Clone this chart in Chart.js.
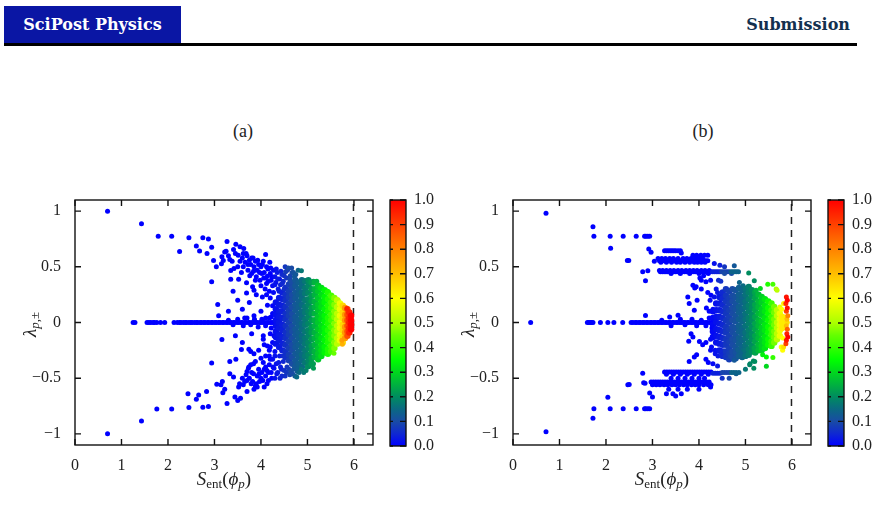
<!DOCTYPE html>
<html>
<head>
<meta charset="utf-8">
<script src="https://cdn.jsdelivr.net/npm/chart.js@4.4.0/dist/chart.umd.min.js"></script>
<style>
  body { margin:0; width:880px; height:506px; background:#fff; position:relative; overflow:hidden; font-family:"Liberation Serif", serif; }
  canvas { position:absolute; }
  #brand { position:absolute; left:4px; top:6px; width:177px; height:38px; background:#0a16a4; color:#fff;
           font-family:"DejaVu Serif", serif; font-weight:bold; font-size:16px; line-height:37px; text-align:center; }
  #sub { position:absolute; right:30px; top:6px; height:38px; line-height:37px; color:#13304e;
         font-family:"DejaVu Serif", serif; font-weight:bold; font-size:16px; }
  #rule { position:absolute; left:4px; top:43px; width:853px; height:2.5px; background:#000; }
  .ptitle { position:absolute; top:121px; width:60px; text-align:center; font-size:18px; color:#222; }
</style>
</head>
<body>
<div id="brand">SciPost Physics</div>
<div id="sub">Submission</div>
<div id="rule"></div>
<div class="ptitle" style="left:213px">(a)</div>
<div class="ptitle" style="left:673px">(b)</div>
<canvas id="scA" width="386" height="316" style="left:0px;top:190px"></canvas>
<canvas id="cbA" width="60" height="316" style="left:380px;top:190px"></canvas>
<canvas id="scB" width="386" height="316" style="left:438px;top:190px"></canvas>
<canvas id="cbB" width="60" height="316" style="left:818px;top:190px"></canvas>
<script>
// axis ticks
const ticksS = [0, 1, 2, 3, 4, 5, 6];
const ticksLambda = [-1, -0.5, 0, 0.5, 1];
const ticksColor = [0, 0.1, 0.2, 0.3, 0.4, 0.5, 0.6, 0.7, 0.8, 0.9, 1.0];
const sMaxLine = 5.99;   // dashed line, maximal entropy

// ---- panel (a) ----
// points lying on lambda = 0 (all blue)
const axisPtsA = [1.25,1.29,1.55,1.59,1.63,1.68,1.71,1.76,1.84,1.93,2.13,2.2,2.25,2.28,2.33,2.37,2.4,2.45,2.49,2.52,2.57,2.61,2.64,2.69,2.72,2.77,2.8,2.85,2.88,2.93,2.96,3.01,3.04,3.09,3.12,3.17,3.2,3.25,3.28,3.33,3.36,3.41,3.44,3.49,3.52,3.57,3.6,3.65,3.68,3.73,3.76,3.81,3.84,3.89,3.92,3.97,4.0,4.05,4.08,4.13,4.16,4.21,4.24,4.28];
// scattered points [S, lambda, colour value]
const scatterA = [
  [0.70,1.00,0],[1.43,0.886,0],[1.79,0.775,0],[2.08,0.775,0],[2.25,0.638,0],[2.45,0.76,0],[2.61,0.688,0],[2.68,0.643,0],
  [2.75,0.76,0],[2.84,0.62,0],[2.87,0.75,0],[2.94,0.676,0],[2.98,0.557,0],[3.04,0.50,0],[2.94,0.365,0],[3.07,0.162,0],[3.09,0.06,0],
  [3.27,0.728,0],[3.22,0.634,0],[3.25,0.64,0],[3.46,0.703,0],[3.41,0.656,0],[3.16,0.59,0],[3.19,0.557,0],[3.15,0.527,0],
  [3.33,0.566,0],[3.51,0.605,0],[3.63,0.665,0],[3.68,0.62,0],[3.35,0.467,0],[3.42,0.485,0],[3.35,0.389,0],[3.52,0.389,0],
  [3.69,0.356,0],[3.69,0.266,0],[3.82,0.32,0],[3.85,0.29,0],[3.3,0.6,0],[3.38,0.55,0],[3.45,0.62,0],[3.55,0.68,0],[3.58,0.45,0],[3.5,0.5,0],
  [3.55,0.55,0],[3.6,0.58,0],[3.62,0.5,0],[3.66,0.54,0],[3.7,0.6,0],[3.72,0.47,0],[3.75,0.56,0],[3.78,0.52,0],[3.8,0.44,0],
  [3.83,0.58,0],[3.85,0.5,0],[3.88,0.55,0],[3.9,0.41,0],[3.92,0.47,0],[3.95,0.52,0],[3.98,0.38,0],[4.0,0.5,0],[4.02,0.44,0],
  [4.05,0.55,0],[4.07,0.45,0],[4.1,0.61,0],[4.1,0.4,0],[4.12,0.35,0],[4.14,0.415,0],[4.15,0.48,0],[4.19,0.54,0],[4.2,0.44,0],
  [4.22,0.38,0],[4.25,0.33,0.01],[4.27,0.47,0.01],[4.3,0.41,0.02],[4.32,0.36,0.02],[4.35,0.45,0.03],[4.37,0.3,0.03],[4.4,0.39,0.03],
  [4.42,0.34,0.04],[4.45,0.43,0.05],[4.48,0.37,0.05],[4.5,0.3,0.06],[4.53,0.455,0.08],[4.55,0.4,0.07],[4.59,0.49,0.1],[4.6,0.35,0.08],
  [4.63,0.42,0.09],[4.67,0.45,0.1],[4.72,0.41,0.12],[4.87,0.464,0.17],[5.02,0.37,0.2],[5.13,0.371,0.22],[5.2,0.371,0.25],
  [5.27,0.314,0.3],[5.43,0.28,0.35],[5.55,0.225,0.42],[5.66,0.2,0.5],[5.85,0.126,0.95],
  [3.62,0.62,0],[3.72,0.52,0],[3.76,0.42,0],[3.8,0.58,0],[3.84,0.46,0],[3.88,0.38,0],[3.93,0.56,0],[3.97,0.45,0],[4.0,0.33,0],
  [4.03,0.52,0],[4.06,0.4,0],[4.09,0.3,0],[4.12,0.5,0],[4.16,0.37,0],[4.18,0.28,0],[4.21,0.49,0],[4.24,0.41,0],[4.27,0.27,0.01],
  [4.3,0.34,0.02],[4.33,0.48,0.02],[4.36,0.39,0.03],[4.39,0.28,0.03],[4.43,0.46,0.04],[4.46,0.35,0.05],[4.5,0.42,0.06],
  [4.52,0.5,0.07],[4.57,0.47,0.08],[4.62,0.39,0.09],[4.66,0.49,0.1],[4.7,0.45,0.11],[4.75,0.43,0.12],[4.8,0.47,0.14],
  [3.4,0.28,0],[3.5,0.2,0],[3.6,0.12,0],[3.75,0.18,0],[3.9,0.25,0],[4.03,0.23,0],[4.14,0.155,0],[4.0,0.1,0],[4.2,0.22,0],
  [4.25,0.08,0],[3.3,0.1,0],[3.85,0.06,0],[4.1,0.04,0],[3.65,0.04,0],[4.12,0.25,0],[4.25,0.15,0],[4.22,0.05,0],
  [3.5,0.03,0],[3.62,-0.03,0],[3.7,0.04,0],[3.78,-0.02,0],[3.86,0.03,0],[3.94,-0.04,0],[4.02,0.03,0],[4.1,-0.03,0],[4.18,0.04,0],
  [4.22,-0.05,0],[3.3,0.02,0],[3.4,-0.02,0],
  [0.70,-1.00,0],[1.43,-0.884,0],[1.76,-0.776,0],[2.08,-0.776,0],[2.45,-0.764,0],[2.75,-0.76,0],[2.87,-0.755,0],[2.43,-0.64,0],
  [2.66,-0.65,0],[2.61,-0.69,0],[2.83,-0.62,0],[2.94,-0.363,0],[3.05,-0.554,0],[3.16,-0.153,0],[3.27,-0.728,0],[3.18,-0.63,0],
  [3.22,-0.6,0],[3.17,-0.53,0],[3.14,-0.56,0],[3.33,-0.35,0],[3.46,-0.33,0],[3.33,-0.46,0],[3.41,-0.49,0],[3.44,-0.67,0],
  [3.5,-0.7,0],[3.56,-0.68,0],[3.52,-0.58,0],[3.54,-0.55,0],[3.7,-0.62,0],[3.58,-0.243,0],[3.74,-0.24,0],[3.78,-0.26,0],
  [3.85,-0.28,0],[3.7,-0.44,0],[3.73,-0.41,0],[3.78,-0.38,0],[3.84,-0.37,0],[3.85,-0.6,0],[3.88,-0.57,0],[3.9,-0.55,0],
  [4.0,-0.5,0],[4.07,-0.58,0],[4.13,-0.43,0],[4.1,-0.4,0],[4.07,-0.2,0],[4.14,-0.21,0],[4.2,-0.22,0],
  [3.6,-0.5,0],[3.65,-0.53,0],[3.68,-0.47,0],[3.75,-0.5,0],[3.8,-0.45,0],[3.82,-0.53,0],[3.92,-0.48,0],[3.95,-0.42,0],
  [3.97,-0.53,0],[4.02,-0.45,0],[4.05,-0.36,0],[4.1,-0.48,0],[4.16,-0.52,0],[4.18,-0.38,0],[4.22,-0.45,0],[4.25,-0.33,0.01],
  [4.28,-0.41,0.01],[4.3,-0.5,0.02],[4.33,-0.37,0.02],[4.36,-0.45,0.03],[4.4,-0.3,0.03],[4.42,-0.4,0.04],[4.45,-0.48,0.05],
  [4.48,-0.35,0.05],[4.5,-0.43,0.06],[4.55,-0.45,0.07],[4.6,-0.42,0.08],[4.65,-0.44,0.1],[4.7,-0.42,0.11],[4.77,-0.489,0.15],
  [4.87,-0.42,0.17],[4.82,-0.45,0.15],[5.13,-0.41,0.22],[5.13,-0.37,0.22],[5.0,-0.4,0.2],[5.57,-0.276,0.45],[5.75,-0.195,0.72],
  [5.74,-0.16,0.75],[3.45,-0.12,0],[3.6,-0.18,0],[3.8,-0.1,0],[3.95,-0.25,0],[4.05,-0.12,0],[4.18,-0.3,0],[4.25,-0.18,0],
  [4.3,-0.26,0.01],[4.05,-0.15,0],[4.2,-0.1,0],[4.18,-0.25,0],[4.28,-0.12,0],
  [3.62,-0.56,0],[3.7,-0.52,0],[3.74,-0.4,0],[3.79,-0.55,0],[3.84,-0.46,0],[3.88,-0.35,0],[3.92,-0.58,0],[3.96,-0.46,0],
  [4.0,-0.32,0],[4.04,-0.52,0],[4.07,-0.42,0],[4.1,-0.3,0],[4.13,-0.55,0],[4.16,-0.45,0],[4.2,-0.33,0],[4.23,-0.5,0],
  [4.26,-0.4,0.01],[4.3,-0.3,0.02],[4.34,-0.46,0.02],[4.38,-0.36,0.03],[4.41,-0.5,0.04],[4.44,-0.42,0.04],[4.47,-0.3,0.05],
  [4.52,-0.48,0.06],[4.56,-0.4,0.07],[4.62,-0.47,0.09],[4.68,-0.46,0.1],[4.73,-0.48,0.12],[4.78,-0.44,0.13],[4.92,-0.45,0.17],
  [4.97,-0.43,0.18]
];
// dense cloud, one column per S value: [S, colour value, [lambda ...]]
const cloudA = [
  [4.32,0.02,[0.18,0.12,0.07,0.02,-0.03,-0.08,-0.13,-0.19]],
  [4.39,0.03,[0.22,0.16,0.1,0.05,0,-0.05,-0.11,-0.16,-0.22]],
  [4.46,0.04,[0.27,0.21,0.15,0.1,0.04,-0.02,-0.07,-0.13,-0.19,-0.25]],
  [4.53,0.06,[0.31,0.25,0.2,0.14,0.08,0.03,-0.03,-0.09,-0.14,-0.2,-0.26,-0.31]],
  [4.60,0.08,[0.34,0.28,0.23,0.17,0.11,0.06,0,-0.06,-0.11,-0.17,-0.23,-0.29,-0.34]],
  [4.67,0.10,[0.36,0.31,0.25,0.2,0.14,0.08,0.03,-0.03,-0.08,-0.14,-0.2,-0.25,-0.31,-0.37]],
  [4.74,0.12,[0.38,0.33,0.27,0.22,0.16,0.11,0.05,0,-0.06,-0.11,-0.17,-0.22,-0.28,-0.34,-0.39]],
  [4.81,0.13,[0.36,0.3,0.25,0.19,0.14,0.08,0.02,-0.03,-0.09,-0.14,-0.2,-0.26,-0.31,-0.37,-0.42]],
  [4.88,0.15,[0.38,0.33,0.27,0.22,0.16,0.1,0.05,-0.01,-0.06,-0.12,-0.17,-0.23,-0.29,-0.34,-0.4]],
  [4.95,0.17,[0.37,0.31,0.26,0.2,0.14,0.09,0.03,-0.02,-0.08,-0.14,-0.19,-0.25,-0.3,-0.36]],
  [5.02,0.19,[0.38,0.33,0.27,0.21,0.16,0.1,0.05,-0.01,-0.07,-0.12,-0.18,-0.23,-0.29,-0.34,-0.39]],
  [5.09,0.22,[0.36,0.3,0.24,0.19,0.13,0.08,0.02,-0.04,-0.09,-0.15,-0.21,-0.26,-0.32,-0.37]],
  [5.16,0.25,[0.36,0.3,0.25,0.19,0.14,0.08,0.02,-0.03,-0.09,-0.14,-0.2,-0.26,-0.31]],
  [5.23,0.28,[0.33,0.28,0.22,0.16,0.11,0.05,0,-0.06,-0.12,-0.17,-0.23,-0.28,-0.33]],
  [5.30,0.31,[0.31,0.25,0.19,0.14,0.08,0.03,-0.03,-0.08,-0.14,-0.2,-0.25,-0.3]],
  [5.37,0.34,[0.29,0.23,0.18,0.12,0.06,0.01,-0.05,-0.1,-0.16,-0.22,-0.27]],
  [5.44,0.38,[0.27,0.21,0.15,0.1,0.04,-0.01,-0.07,-0.13,-0.18,-0.24,-0.28]],
  [5.51,0.42,[0.24,0.18,0.13,0.07,0.02,-0.04,-0.1,-0.15,-0.21,-0.26]],
  [5.58,0.47,[0.22,0.16,0.1,0.05,-0.01,-0.07,-0.12,-0.18,-0.23]],
  [5.64,0.52,[0.2,0.14,0.08,0.03,-0.03,-0.08,-0.14,-0.19]],
  [5.70,0.58,[0.17,0.12,0.06,0,-0.05,-0.11,-0.16]],
  [5.76,0.66,[0.15,0.09,0.04,-0.02,-0.07,-0.13,-0.18]],
  [5.81,0.76,[0.13,0.07,0.02,-0.04,-0.09,-0.14]],
  [5.86,0.88,[0.12,0.07,0.02,-0.03,-0.08,-0.12]],
  [5.90,0.95,[0.09,0.04,0,-0.05,-0.09]],
  [5.94,1.00,[0.06,0.02,-0.02,-0.06]]
];

// ---- panel (b) ----
const axisPtsB = [0.38,1.6,1.63,1.66,1.69,1.72,1.88,2.04,2.17,2.36,2.54,2.58,2.63,2.66,2.71,2.74,2.79,2.82,2.87,2.9,2.95,2.98,3.03,3.06,3.11,3.14,3.19,3.22,3.27,3.3,3.35,3.38,3.43,3.46,3.51,3.54,3.59,3.62,3.67,3.7,3.75,3.78,3.83,3.86,3.91,3.94,3.99,4.02,4.07,4.1,4.15,4.18,4.23,4.27];
// horizontal strings of points: [lambda, colour value, [S ...]]
const rowsB = [
  [0.775,0,[1.74,2.09,2.37,2.65,2.83,2.86,2.9,2.94]],
  [0.645,0,[3.26,3.3,3.34,3.38,3.42,3.46,3.5,3.55,3.6]],
  [0.605,0,[3.87,3.95,4.04,4.12,4.19]],
  [0.575,0,[3.12,3.2,3.28,3.37,3.45,3.55,3.66,3.74,3.83,3.92,4.0,4.08]],
  [0.555,0,[3.15,3.19,3.23,3.27,3.31,3.35,3.39,3.43,3.47,3.51,3.55,3.59,3.63,3.67,3.71,3.75,3.79,3.83,3.87,3.91,3.95,3.99,4.03,4.07,4.11,4.15,4.19]],
  [0.54,0,[3.18,3.3,3.41,3.52,3.6,3.7,3.8,3.9,3.97,4.05,4.13]],
  [0.468,0,[3.15,3.22,3.3,3.38,3.46,3.55,3.63,3.72,3.8,3.88,3.96,4.05,4.13,4.22]],
  [0.455,0,[3.17,3.21,3.25,3.29,3.33,3.37,3.41,3.45,3.49,3.53,3.57,3.61,3.65,3.69,3.73,3.77,3.81,3.85,3.89,3.93,3.97,4.01,4.05,4.09,4.13,4.17,4.21,4.25]],
  [0.455,0.04,[4.29,4.33,4.37,4.41,4.45]],
  [0.455,0.09,[4.49,4.53,4.57,4.61,4.65]],
  [0.455,0.14,[4.69,4.73,4.77,4.81,4.85]],
  [0.44,0,[3.4,3.6,3.8,4.0,4.2]],
  [0.44,0.1,[4.55,4.7]],
  [-0.445,0,[3.26,3.31,3.36,3.41,3.46,3.51,3.56,3.61,3.66,3.71,3.76,3.81,3.86,3.91,3.96,4.01,4.06,4.11,4.16,4.21,4.26]],
  [-0.455,0.04,[4.3,4.35,4.4,4.45]],
  [-0.45,0.09,[4.5,4.55,4.6,4.65]],
  [-0.45,0.14,[4.7,4.75,4.8,4.86]],
  [-0.465,0,[3.3,3.45,3.6,3.75,3.9,4.05,4.2]],
  [-0.5,0,[3.4,3.55,3.7,3.85,4.0,4.12]],
  [-0.535,0,[2.97,3.02,3.07,3.12,3.17,3.22,3.27,3.32,3.37,3.42,3.47,3.52,3.57,3.62,3.67,3.72,3.77,3.82,3.87,3.92,3.97,4.02,4.07,4.12,4.17,4.22]],
  [-0.56,0,[3.0,3.08,3.16,3.25,3.33,3.42,3.5,3.58,3.67,3.75,3.84,3.92,4.0,4.1,4.2,4.26]],
  [-0.775,0,[1.74,2.09,2.37,2.65,2.83,2.86,2.9,2.94]]
];
const scatterB = [
  [0.71,0.98,0],[1.72,0.86,0],[2.10,0.667,0],[2.46,0.557,0],[2.49,0.557,0],[2.92,0.66,0],[2.97,0.63,0],[3.04,0.55,0],
  [2.79,0.455,0],[2.9,0.464,0],[2.85,0.374,0],[2.85,0.063,0],[3.62,0.625,0],
  [3.87,0.335,0],[3.91,0.31,0],[3.94,0.32,0],[4.05,0.38,0],[4.15,0.365,0],[4.05,0.3,0],[4.19,0.27,0],[4.26,0.245,0],
  [4.37,0.3,0.02],[3.76,0.23,0],[3.96,0.2,0],[3.79,0.17,0],[3.9,0.11,0],[4.16,0.13,0],[4.3,0.12,0.01],[4.37,0.17,0.02],
  [4.48,0.21,0.04],[3.37,0.05,0],[3.55,0.065,0],[4.1,0.42,0],[4.02,0.4,0],[4.25,0.38,0.01],[4.42,0.38,0.05],[4.47,0.37,0.06],
  [4.33,0.53,0.02],[4.45,0.515,0.04],[4.55,0.5,0.07],[4.76,0.51,0.12],[5.07,0.445,0.2],
  [5.19,0.374,0.2],[5.04,0.314,0.17],[5.32,0.305,0.3],[5.48,0.344,0.38],[5.59,0.344,0.42],[5.66,0.3,0.5],[5.68,0.29,0.52],
  [5.23,0.29,0.25],[5.01,0.23,0.15],[4.87,0.36,0.14],[4.95,0.33,0.15],
  [3.2,0.02,0],[3.4,-0.03,0],[3.6,0.03,0],[3.7,-0.02,0],[3.85,0.03,0],[3.95,-0.03,0],[4.05,0.02,0],[4.15,-0.03,0],[4.22,0.04,0],[4.28,-0.05,0],
  [4.24,0.2,0.01],[4.27,-0.22,0.01],[4.22,0.1,0],[4.25,-0.15,0.01],[4.33,0.23,0.02],[4.35,-0.25,0.02],[4.4,0.27,0.03],[4.41,-0.3,0.03],
  [5.88,0.23,0.97],[5.9,0.2,1.0],[5.87,0.17,0.95],[5.9,0.13,0.98],[5.88,0.1,0.9],[5.91,0.06,0.8],[5.89,0.03,0.7],[5.9,0,0.65],
  [5.88,-0.03,0.7],[5.9,-0.06,0.85],[5.89,-0.1,0.95],[5.91,-0.13,1.0],[5.88,-0.16,0.97],[5.87,-0.19,0.9],[5.82,-0.22,0.65],
  [5.8,-0.25,0.6],[5.78,0.12,0.6],[5.82,0.17,0.62],[5.8,-0.14,0.6],[5.74,0.14,0.58],[5.83,0.05,0.6],[5.84,-0.04,0.62],
  [0.71,-0.98,0],[1.72,-0.86,0],[2.04,-0.671,0],[2.5,-0.557,0],[2.47,-0.56,0],[2.79,-0.456,0],[2.81,-0.54,0],[2.84,-0.545,0],
  [2.94,-0.633,0],[3.0,-0.668,0],[3.3,-0.64,0],[3.44,-0.64,0],[3.5,-0.66,0],[3.62,-0.64,0],[3.75,-0.6,0],[4.0,-0.6,0],
  [4.25,-0.58,0],[3.35,-0.6,0],[3.55,-0.6,0],
  [3.83,-0.1,0],[3.87,-0.13,0],[3.78,-0.168,0],[4.01,-0.17,0],[4.08,-0.2,0],[4.15,-0.18,0],[3.9,-0.31,0],[3.95,-0.29,0],
  [3.79,-0.35,0],[4.15,-0.33,0],[4.2,-0.36,0],[4.25,-0.25,0.01],[4.35,-0.28,0.02],[4.45,-0.26,0.03],[4.3,-0.37,0.01],
  [4.4,-0.39,0.03],[4.5,-0.28,0.05],[4.67,-0.3,0.09],[4.83,-0.24,0.13],[4.95,-0.24,0.15],[5.15,-0.24,0.2],[5.18,-0.23,0.22],
  [5.37,-0.29,0.33],[5.45,-0.31,0.35],[5.59,-0.315,0.4],[5.17,-0.345,0.2],[5.09,-0.38,0.19],[5.18,-0.41,0.2],[5.45,-0.393,0.3],
  [5.77,-0.22,0.6],[4.76,-0.34,0.12],[4.5,-0.5,0.06],[4.65,-0.5,0.09],[4.8,-0.46,0.13],[5.0,-0.42,0.17],[5.1,-0.37,0.19],
  [5.2,-0.35,0.2],[3.62,-0.45,0],[3.8,-0.45,0]
];
const cloudB = [
  [4.30,0.01,[0.1,0.04,-0.02,-0.08,-0.13]],
  [4.37,0.02,[0.17,0.11,0.05,0,-0.06,-0.12,-0.18]],
  [4.44,0.03,[0.23,0.17,0.11,0.05,-0.01,-0.07,-0.13,-0.19,-0.25]],
  [4.51,0.05,[0.27,0.22,0.16,0.1,0.04,-0.02,-0.08,-0.14,-0.2,-0.26,-0.3]],
  [4.58,0.07,[0.3,0.24,0.19,0.13,0.08,0.02,-0.04,-0.09,-0.15,-0.2,-0.26,-0.31]],
  [4.65,0.08,[0.28,0.22,0.17,0.11,0.05,0,-0.06,-0.12,-0.17,-0.23,-0.28,-0.33]],
  [4.72,0.10,[0.3,0.24,0.19,0.13,0.08,0.02,-0.04,-0.09,-0.15,-0.2,-0.26,-0.31]],
  [4.79,0.11,[0.29,0.23,0.17,0.12,0.06,0.01,-0.05,-0.11,-0.16,-0.22,-0.27,-0.32]],
  [4.86,0.13,[0.31,0.25,0.2,0.14,0.09,0.03,-0.03,-0.08,-0.14,-0.19,-0.25,-0.3]],
  [4.93,0.14,[0.29,0.23,0.18,0.12,0.06,0.01,-0.05,-0.1,-0.16,-0.22,-0.27,-0.31]],
  [5.00,0.16,[0.3,0.25,0.19,0.14,0.08,0.03,-0.03,-0.09,-0.14,-0.2,-0.25,-0.3]],
  [5.07,0.18,[0.32,0.27,0.21,0.15,0.1,0.04,-0.01,-0.07,-0.12,-0.18,-0.24,-0.29]],
  [5.14,0.20,[0.29,0.24,0.18,0.13,0.07,0.02,-0.04,-0.1,-0.15,-0.21,-0.26]],
  [5.21,0.23,[0.27,0.22,0.16,0.11,0.05,-0.01,-0.06,-0.12,-0.17,-0.23,-0.27]],
  [5.28,0.26,[0.25,0.19,0.14,0.08,0.02,-0.03,-0.09,-0.14,-0.2,-0.25]],
  [5.35,0.29,[0.23,0.18,0.12,0.07,0.01,-0.05,-0.1,-0.16,-0.21,-0.25]],
  [5.42,0.32,[0.21,0.15,0.1,0.04,-0.02,-0.07,-0.13,-0.18,-0.23]],
  [5.49,0.36,[0.19,0.13,0.08,0.02,-0.04,-0.09,-0.15,-0.2]],
  [5.56,0.41,[0.17,0.11,0.05,0,-0.06,-0.11,-0.17,-0.21]],
  [5.62,0.46,[0.14,0.09,0.03,-0.02,-0.08,-0.13,-0.18]],
  [5.68,0.52,[0.11,0.06,0,-0.05,-0.1,-0.15]],
  [5.74,0.58,[0.08,0.03,-0.02,-0.07,-0.12]],
  [5.79,0.63,[0.05,0,-0.05]]
];

// colour map of the colour bar (value -> rgb)
const cmapStops = [[0,[0,0,255]],[0.05,[15,40,210]],[0.1,[25,75,165]],[0.15,[10,105,130]],[0.2,[0,140,95]],
  [0.3,[0,215,30]],[0.35,[0,255,0]],[0.45,[100,255,0]],[0.5,[170,255,0]],[0.6,[255,255,0]],
  [0.7,[255,190,0]],[0.8,[255,130,0]],[0.9,[255,65,0]],[1,[255,0,0]]];

function cmap(v) {
  for (let i = 1; i < cmapStops.length; i++) {
    const [t1, c1] = cmapStops[i - 1], [t2, c2] = cmapStops[i];
    if (v <= t2) {
      const f = (v - t1) / (t2 - t1);
      return 'rgb(' + c1.map((a, k) => Math.round(a + (c2[k] - a) * f)).join(',') + ')';
    }
  }
  return 'rgb(255,0,0)';
}

// flatten everything into one point list, cloud points get a bigger dot
function buildPoints(axisPts, scatter, rows, cloud) {
  const raw = [];
  axisPts.forEach(x => raw.push([x, 0, 0, 2.5]));
  scatter.forEach(p => raw.push([p[0], p[1], p[2], 2.5]));
  rows.forEach(([y, c, xs]) => xs.forEach(x => raw.push([x, y, c, 2.5])));
  cloud.forEach(([x, c, ys]) => ys.forEach(y => raw.push([x, y, c, 3.2])));
  raw.sort((a, b) => a[2] - b[2]);   // high values drawn on top
  return {
    pts: raw.map(p => ({ x: p[0], y: p[1] })),
    cols: raw.map(p => cmap(p[2])),
    rad: raw.map(p => p[3])
  };
}

const serif = '"Liberation Serif", "DejaVu Serif", serif';
const tickFont = { family: serif, size: 16 };

function drawRuns(ctx, runs, cx, y) {
  let w = 0;
  runs.forEach(r => { ctx.font = r.f; r.w = ctx.measureText(r.t).width; w += r.w; });
  let x = cx - w / 2;
  runs.forEach(r => { ctx.font = r.f; ctx.fillText(r.t, x, y + (r.dy || 0)); x += r.w; });
}

const framePlugin = {
  id: 'frame',
  afterDraw(chart) {
    const { ctx, chartArea: a, scales } = chart;
    ctx.save();
    ctx.strokeStyle = '#111';
    ctx.lineWidth = 1.4;
    ctx.strokeRect(a.left, a.top, a.right - a.left, a.bottom - a.top);
    ctx.beginPath();
    scales.x.ticks.forEach(t => {
      const p = scales.x.getPixelForValue(t.value);
      ctx.moveTo(p, a.bottom); ctx.lineTo(p, a.bottom - 6);
      ctx.moveTo(p, a.top); ctx.lineTo(p, a.top + 6);
    });
    scales.y.ticks.forEach(t => {
      const p = scales.y.getPixelForValue(t.value);
      ctx.moveTo(a.left, p); ctx.lineTo(a.left + 6, p);
      ctx.moveTo(a.right, p); ctx.lineTo(a.right - 6, p);
    });
    ctx.stroke();
    // axis titles
    ctx.fillStyle = '#222';
    ctx.textBaseline = 'alphabetic';
    const big = '19px ' + serif, bigI = 'italic 19px ' + serif;
    const sm = '13px ' + serif, smI = 'italic 13px ' + serif;
    drawRuns(ctx, [
      { t: 'S', f: bigI }, { t: 'ent', f: sm, dy: 3 }, { t: '(', f: big },
      { t: '\u03D5', f: bigI }, { t: 'p', f: smI, dy: 3 }, { t: ')', f: big }
    ], (a.left + a.right) / 2, 295);
    ctx.translate(31, (a.top + a.bottom) / 2 + 2);
    ctx.rotate(-Math.PI / 2);
    drawRuns(ctx, [
      { t: '\u03BB', f: 'italic 19px ' + serif }, { t: 'p', f: smI, dy: 3 }, { t: ',\u00B1', f: sm, dy: 3 }
    ], 0, 5);
    ctx.restore();
  }
};

function makeScatter(id, data) {
  return new Chart(document.getElementById(id), {
    type: 'scatter',
    data: {
      datasets: [
        { data: data.pts, pointBackgroundColor: data.cols, pointBorderWidth: 0,
          pointRadius: data.rad, pointHoverRadius: data.rad },
        { data: [{ x: sMaxLine, y: -1.1 }, { x: sMaxLine, y: 1.1 }], showLine: true, pointRadius: 0,
          borderColor: '#222', borderWidth: 1.5, borderDash: [7, 6] }
      ]
    },
    options: {
      responsive: false, animation: false, events: [],
      layout: { padding: { top: 10, right: 13, left: 0, bottom: 0 } },
      plugins: { legend: { display: false }, tooltip: { enabled: false } },
      scales: {
        x: {
          type: 'linear', min: 0, max: 6.41,
          afterBuildTicks: s => { s.ticks = ticksS.map(v => ({ value: v })); },
          afterFit: s => { s.height = 61; s.paddingLeft = 0; s.paddingRight = 0; },
          grid: { display: false, drawTicks: false }, border: { display: false },
          ticks: { font: tickFont, color: '#222', padding: 11, maxRotation: 0 }
        },
        y: {
          type: 'linear', min: -1.1, max: 1.1,
          afterBuildTicks: s => { s.ticks = ticksLambda.map(v => ({ value: v })); },
          afterFit: s => { s.width = 75; s.paddingTop = 0; s.paddingBottom = 0; },
          grid: { display: false, drawTicks: false }, border: { display: false },
          ticks: { font: tickFont, color: '#222', padding: 14,
                   callback: v => (v < 0 ? '\u2212' : '') + Math.abs(v) }
        }
      }
    },
    plugins: [framePlugin]
  });
}

const cbFrame = {
  id: 'cbframe',
  afterDraw(chart) {
    const { ctx, chartArea: a, scales } = chart;
    ctx.save();
    ctx.strokeStyle = '#111';
    ctx.lineWidth = 1.4;
    ctx.strokeRect(a.left, a.top, a.right - a.left, a.bottom - a.top);
    ctx.beginPath();
    scales.y.ticks.forEach(t => {
      const p = scales.y.getPixelForValue(t.value);
      ctx.moveTo(a.right, p); ctx.lineTo(a.right - 6, p);
      ctx.moveTo(a.left, p); ctx.lineTo(a.left + 3, p);
    });
    ctx.stroke();
    ctx.restore();
  }
};

function makeColorbar(id) {
  return new Chart(document.getElementById(id), {
    type: 'bar',
    data: {
      labels: [''],
      datasets: [{
        data: [1], borderWidth: 0, barPercentage: 1, categoryPercentage: 1,
        backgroundColor: c => {
          const a = c.chart.chartArea;
          if (!a) return 'rgb(0,0,255)';
          const g = c.chart.ctx.createLinearGradient(0, a.bottom, 0, a.top);
          cmapStops.forEach(([t, rgb]) => g.addColorStop(t, 'rgb(' + rgb.join(',') + ')'));
          return g;
        }
      }]
    },
    options: {
      responsive: false, animation: false, events: [],
      layout: { padding: { top: 10, left: 10, right: 0, bottom: 60 } },
      plugins: { legend: { display: false }, tooltip: { enabled: false } },
      scales: {
        x: { display: false },
        y: {
          position: 'right', min: 0, max: 1,
          afterBuildTicks: s => { s.ticks = ticksColor.map(v => ({ value: v })); },
          afterFit: s => { s.width = 34; s.paddingTop = 0; s.paddingBottom = 0; },
          grid: { display: false, drawTicks: false }, border: { display: false },
          ticks: { font: tickFont, color: '#222', padding: 8, callback: v => v.toFixed(1) }
        }
      }
    },
    plugins: [cbFrame]
  });
}

makeScatter('scA', buildPoints(axisPtsA, scatterA, [], cloudA));
makeScatter('scB', buildPoints(axisPtsB, scatterB, rowsB, cloudB));
makeColorbar('cbA');
makeColorbar('cbB');
</script>
</body>
</html>
